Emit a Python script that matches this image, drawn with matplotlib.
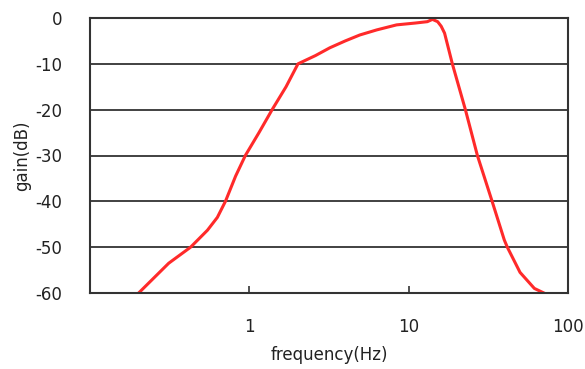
import matplotlib
matplotlib.use("Agg")
import matplotlib.pyplot as plt
from matplotlib.ticker import FixedLocator, FixedFormatter, NullLocator

# filter response read at a handful of frequencies
freq_hz = [0.202, 0.312, 0.428, 0.546, 0.63, 0.708, 0.82, 0.944, 1.15, 1.39,
           1.7, 2.02, 2.6, 3.2, 4.0, 4.94, 6.3, 8.4, 11.0, 13.1, 14.1, 15.2,
           16.0, 16.8, 18.8, 22.7, 27.0, 33.4, 39.8, 41.6, 50.0, 61.5, 70.6]
gain_db = [-60, -53.5, -50, -46.3, -43.5, -40, -34.5, -30, -25, -20,
           -15, -10, -8.2, -6.5, -5.0, -3.7, -2.6, -1.5, -1.1, -0.8, -0.3, -0.8,
           -1.8, -3.3, -10, -20, -30, -40, -48.4, -50, -55.5, -59, -60]

y_ticks = [0, -10, -20, -30, -40, -50, -60]
x_ticks = [1, 10, 100]
x_tick_labels = ["1", "10", "100"]

plt.rcParams["font.family"] = ["DejaVu Sans"]
text_col = "#222222"

fig = plt.figure(figsize=(5.85, 3.69), dpi=100)
ax = fig.add_axes([90 / 585, 1 - 293 / 369, (568 - 90) / 585, (293 - 18) / 369])

ax.plot(freq_hz, gain_db, color="#ff2a2a", lw=2.2, solid_joinstyle="round")

ax.set_xscale("log")
ax.set_xlim(0.1, 100)
ax.set_ylim(-60, 0)

ax.xaxis.set_major_locator(FixedLocator(x_ticks))
ax.xaxis.set_major_formatter(FixedFormatter(x_tick_labels))
ax.xaxis.set_minor_locator(NullLocator())
ax.set_yticks(y_ticks)
ax.set_yticklabels([str(v) for v in y_ticks])

for v in y_ticks[1:-1]:
    ax.axhline(v, color="#333333", lw=1.3, zorder=0)

for s in ax.spines.values():
    s.set_color("#333333")
    s.set_linewidth(1.5)

ax.tick_params(axis="x", direction="in", length=5, width=1.2, color="#333333",
               pad=18, labelsize=12, labelcolor=text_col)
ax.tick_params(axis="y", length=0, pad=20, labelsize=12, labelcolor=text_col)

ax.set_xlabel("frequency(Hz)", fontsize=12, color=text_col, labelpad=7)
ax.set_ylabel("gain(dB)", fontsize=12, color=text_col, labelpad=3)

fig.savefig("out.png", dpi=100)
